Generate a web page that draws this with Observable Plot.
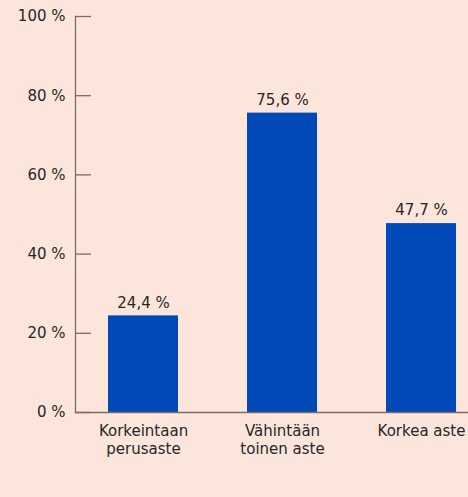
<!DOCTYPE html>
<html>
<head>
<meta charset="utf-8">
<script src="https://cdn.jsdelivr.net/npm/d3@7"></script>
<script src="https://cdn.jsdelivr.net/npm/@observablehq/plot@0.6"></script>
<style>
  html, body { margin: 0; padding: 0; background: #fce6dc; overflow: hidden; }
  #chart { width: 468px; height: 497px; }
</style>
</head>
<body>
<div id="chart"></div>
<script>
const categories = ["Korkeintaan\nperusaste", "Vähintään\ntoinen aste", "Korkea aste"];
const values = [24.4, 75.6, 47.7];
const yTicks = [0, 20, 40, 60, 80, 100];

const data = categories.map((c, i) => ({category: c, value: values[i]}));
const fmt = v => v.toFixed(1).replace(".", ",") + " %";
const W = 468, H = 497, ML = 75;

const chart = Plot.plot({
  width: W,
  height: H,
  marginLeft: ML,
  marginRight: 0,
  marginTop: 16,
  marginBottom: 85,
  style: {background: "#fce6dc", fontFamily: "'DejaVu Sans', sans-serif", fontSize: "15px", color: "#262626", overflow: "hidden"},
  x: {domain: categories, range: [ML, 489], paddingInner: 0.496, paddingOuter: 0.237, label: null},
  y: {domain: [0, 100], label: null},
  marks: [
    Plot.barY(data, {x: "category", y: "value", fill: "#0049b7"}),
    Plot.text(data, {x: "category", y: "value", text: d => fmt(d.value), dy: -13, fill: "#262626", fontSize: 15}),
    Plot.ruleY(yTicks, {stroke: "#7d6c66", strokeWidth: 1.3, insetRight: W - ML - 16}),
    Plot.frame({anchor: "left", stroke: "#7d6c66", strokeWidth: 1.3}),
    Plot.ruleY([0], {stroke: "#7d6c66", strokeWidth: 1.3}),
    Plot.axisY({ticks: yTicks, tickSize: 0, tickPadding: 10, tickFormat: d => d + " %", label: null, fontSize: 15}),
    Plot.axisX({tickSize: 0, tickPadding: 11, label: null, fontSize: 15, lineHeight: 1.2})
  ]
});
document.getElementById("chart").append(chart);
</script>
</body>
</html>
